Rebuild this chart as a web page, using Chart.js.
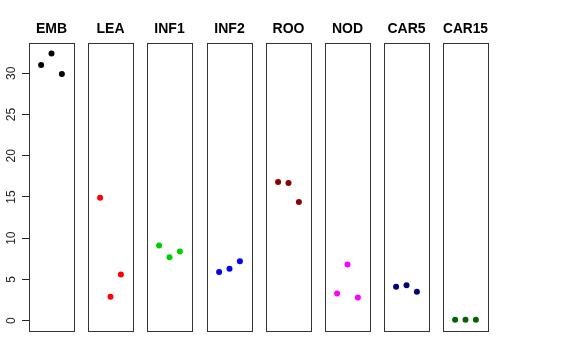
<!DOCTYPE html>
<html>
<head>
<meta charset="utf-8">
<script src="https://cdn.jsdelivr.net/npm/chart.js@4"></script>
<style>
  html, body { margin: 0; padding: 0; background: #fff; }
  #wrap { position: relative; width: 576px; height: 360px; overflow: hidden; }
  #wrap canvas { position: absolute; top: 0; }
</style>
</head>
<body>
<div id="wrap"></div>
<script>
// Data
const PANELS = ['EMB', 'LEA', 'INF1', 'INF2', 'ROO', 'NOD', 'CAR5', 'CAR15'];
const EMB   = [31.0, 32.4, 29.9];
const LEA   = [14.9, 2.9, 5.6];
const INF1  = [9.1, 7.7, 8.4];
const INF2  = [5.9, 6.3, 7.2];
const ROO   = [16.8, 16.7, 14.4];
const NOD   = [3.3, 6.8, 2.8];
const CAR5  = [4.1, 4.3, 3.5];
const CAR15 = [0.12, 0.1, 0.1];
const SERIES = [EMB, LEA, INF1, INF2, ROO, NOD, CAR5, CAR15];
const COLORS = ['#000000', '#FF0000', '#00CD00', '#0000FF', '#8B0000', '#FF00FF', '#000080', '#006400'];
const Y_TICKS = [0, 5, 10, 15, 20, 25, 30];

const FONT = '"Liberation Sans", Arial, Helvetica, sans-serif';
const PANEL_LEFT = 29;     // left edge of first panel
const PANEL_PITCH = 59.2;  // distance between panel left edges
const PANEL_W = 45;
const SIDE = 5;

// draws the box round each panel
const boxPlugin = {
    id: 'box',
    afterDraw(chart) {
        const a = chart.chartArea;
        const c = chart.ctx;
        c.save();
        c.strokeStyle = '#333';
        c.lineWidth = 1;
        c.strokeRect(Math.round(a.left) + 0.5, Math.round(a.top) + 0.5,
                     Math.round(a.right - a.left), Math.round(a.bottom - a.top));
        c.restore();
    }
};

const wrap = document.getElementById('wrap');

PANELS.forEach((name, i) => {
    const first = i === 0;
    const panelLeft = Math.round(PANEL_LEFT + PANEL_PITCH * i);
    const canvas = document.createElement('canvas');
    const left = first ? 0 : panelLeft - SIDE;
    const width = first ? PANEL_LEFT + PANEL_W + SIDE : PANEL_W + 2 * SIDE;
    canvas.width = width;
    canvas.height = 360;
    canvas.style.left = left + 'px';
    wrap.appendChild(canvas);

    const yScale = {
        type: 'linear',
        min: -1.25,
        max: 33.7,
        display: first
    };
    if (first) {
        Object.assign(yScale, {
            afterBuildTicks: scale => {
                scale.ticks = Y_TICKS.map(v => ({ value: v }));
            },
            afterFit: scale => {
                scale.width = PANEL_LEFT;
            },
            border: { display: false },
            grid: {
                drawOnChartArea: false,
                drawTicks: true,
                tickLength: 7,
                tickColor: '#222',
                tickWidth: 1
            },
            ticks: {
                minRotation: 90,
                maxRotation: 90,
                crossAlign: 'center',
                padding: 4,
                color: '#222',
                font: { family: FONT, size: 12 }
            }
        });
    }

    new Chart(canvas.getContext('2d'), {
        type: 'scatter',
        data: {
            datasets: [{
                data: SERIES[i].map((v, k) => ({ x: k + 1, y: v })),
                backgroundColor: COLORS[i],
                borderWidth: 0,
                pointRadius: 3,
                pointHoverRadius: 3,
                clip: false
            }]
        },
        options: {
            responsive: false,
            animation: false,
            devicePixelRatio: 1,
            layout: {
                padding: { left: first ? 0 : SIDE, right: SIDE, top: 0, bottom: 29 }
            },
            scales: {
                x: {
                    type: 'linear',
                    min: -0.165,
                    max: 4.165,
                    display: false
                },
                y: yScale
            },
            plugins: {
                legend: { display: false },
                tooltip: { enabled: false },
                title: {
                    display: true,
                    text: name,
                    fullSize: false,
                    color: '#000',
                    font: { family: FONT, size: 14, weight: 'bold', lineHeight: 1.2 },
                    padding: { top: 20.6, bottom: 5.3 }
                }
            }
        },
        plugins: [boxPlugin]
    });
});
</script>
</body>
</html>
